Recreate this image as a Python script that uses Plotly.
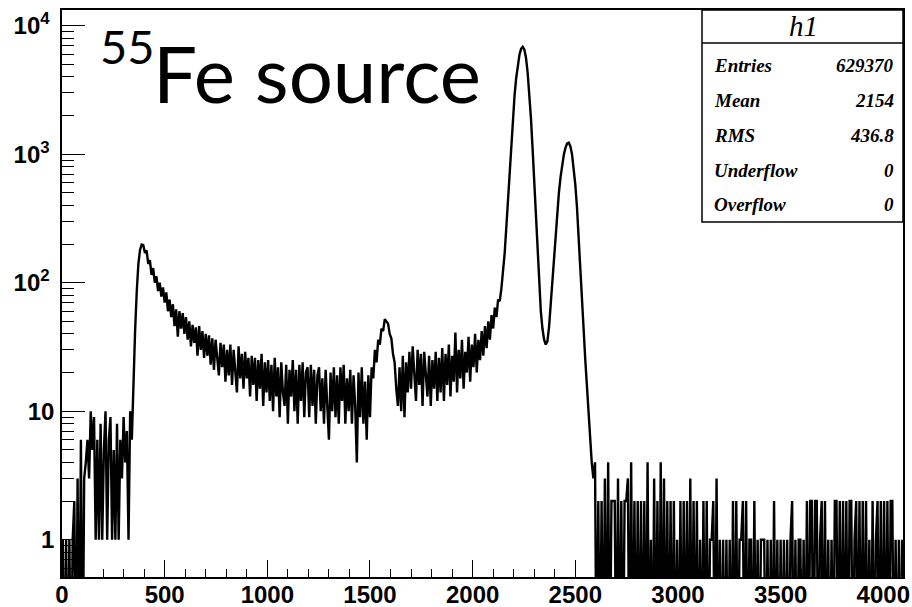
import numpy as np
import plotly.graph_objects as go

# ---------------- data (counts per channel, sampled every 8 channels) ----------------
bin_width = 8

# ch 0 .. 336
low_counts = [1, 0, 1, 0, 1, 0, 1, 2, 0, 3, 0, 6, 0, 3,
              4, 6, 3, 10, 5, 9, 1, 6, 1, 8, 1, 5, 10, 1, 6, 9, 1, 5, 1, 8, 1, 6, 3, 9, 4, 7, 1, 10, 6]
# ch 344 .. 384
rise_counts = [18, 42, 85, 140, 180, 198]
# ch 392 .. 1256
decay_counts = [196, 170, 178, 140, 150, 115, 130, 100, 112,
                86, 100, 78, 92, 70, 84, 60, 74,
                54, 68, 46, 62, 38, 60, 44, 58, 40, 54,
                36, 50, 32, 47, 34, 45, 27, 46, 30, 42, 26, 40,
                27, 39, 23, 37, 21, 36, 26, 19, 34, 22, 33, 17, 30,
                19, 33, 16, 30, 21, 14, 32, 18, 28, 15, 29, 18, 26,
                13, 27, 16, 26, 12, 25, 15, 28, 11, 24, 14, 25,
                12, 23, 10, 26, 13, 22, 9, 24, 14, 11, 23, 8, 21,
                13, 25, 10, 21, 8, 23, 12, 24, 9, 20, 22, 9,
                23, 11, 21, 8, 19, 22, 10]
# ch 1264 .. 1504
plateau_counts = [18, 8, 21, 11, 6, 20, 10, 22, 9, 19, 8, 22, 12, 23, 8, 18,
                  10, 21, 8, 19, 11, 4, 20, 9, 22, 8, 17, 6, 19, 9, 22]
# ch 1512 .. 1680
bump_counts = [18, 30, 24, 36, 33, 44, 42, 52, 50, 48, 40, 37, 28, 24, 15, 11,
               22, 10, 27, 9, 24, 14]
# ch 1688 .. 2120
shoulder_counts = [29, 15, 32, 19, 12, 30, 16, 28, 11, 29,
                   18, 13, 27, 11, 25, 15, 29, 12, 26, 14,
                   31, 12, 28, 16, 33, 13, 27, 17, 41, 14,
                   30, 18, 36, 15, 29, 20, 38, 17, 33, 22,
                   40, 20, 36, 25, 42, 27, 46, 31, 50, 36,
                   56, 44, 64, 54, 74]
# ch 2128 .. 2584
peak_counts = [72, 90, 120, 170, 270, 450, 760, 1250, 1950, 2850,
               3900, 5000, 5950, 6600, 6850, 6500, 5600, 4300, 3000, 1900,
               1100, 600, 320, 170, 95, 60, 44, 36, 33, 35,
               45, 68, 105, 165, 250, 360, 500, 660, 830, 990,
               1120, 1210, 1230, 1150, 1000, 800, 580, 390, 240, 140,
               80, 45, 26, 16, 10, 6, 4, 3]
# ch 2592 .. 4088
tail_counts = [4, 0, 2, 0, 2, 0, 3, 0, 4, 0, 2, 2, 2, 0, 3, 0,
               2, 0, 2, 2, 3, 0, 4, 0, 2, 0, 2, 0, 2, 0, 2, 0,
               4, 0, 1, 0, 3, 0, 2, 0, 4, 0, 3, 0, 2, 0, 2, 0,
               2, 0, 1, 0, 2, 0, 2, 0, 2, 0, 3, 0, 2, 0, 2, 0,
               1, 0, 2, 0, 2, 0, 1, 1, 2, 0, 3, 0, 1, 0, 1, 0,
               1, 0, 1, 0, 2, 0, 2, 0, 1, 1, 2, 0, 2, 0, 1, 1,
               0, 2, 0, 1, 0, 1, 1, 1, 0, 1, 0, 1, 0, 2, 0, 1,
               0, 1, 0, 1, 0, 1, 0, 1, 2, 0, 1, 0, 1, 1, 0, 1,
               0, 2, 0, 2, 2, 0, 2, 2, 0, 1, 2, 0, 2, 0, 1, 0,
               1, 0, 2, 2, 0, 2, 0, 2, 0, 2, 0, 2, 2, 0, 1, 2,
               0, 2, 0, 2, 0, 2, 0, 1, 0, 2, 0, 1, 2, 0, 2, 0,
               2, 0, 2, 0, 2, 2, 0, 1, 0, 1, 0, 1]

x_major_ticks = [0, 500, 1000, 1500, 2000, 2500, 3000, 3500, 4000]
y_major_ticks = [1, 10, 100, 1000, 10000]
y_major_text = ["1", "10", "10<sup>2</sup>\u2009", "10<sup>3</sup>\u2009", "10<sup>4</sup>\u2009"]

stats_title = "h1"
stats_labels = ["Entries", "Mean", "RMS", "Underflow", "Overflow"]
stats_values = ["629370", "2154", "436.8", "0", "0"]

# ---------------- build ----------------
counts = np.array(low_counts + rise_counts + decay_counts + plateau_counts +
                  bump_counts + shoulder_counts + peak_counts + tail_counts, dtype=float)
channels = np.arange(len(counts)) * bin_width + bin_width / 2
# empty bins drawn down to the bottom of the frame (below axis range -> clipped)
y_plot = np.where(counts > 0, counts, 0.05)

W, H = 912, 607
L, R, T, B = 62, 9, 10, 30
PW, PH = W - L - R, H - T - B


def px(xp):
    return (xp - L) / PW


def py(yp):
    return (H - B - yp) / PH


fig = go.Figure()
fig.add_trace(go.Scatter(x=channels, y=y_plot, mode="lines",
                         line=dict(color="black", width=2.4),
                         hoverinfo="skip", showlegend=False))

x_minor = [v for v in range(100, 4096, 100) if v % 500 != 0]
y_minor = []
for dec in [0.1, 1, 10, 100, 1000]:
    for m in range(2, 10):
        y_minor.append(m * dec)

tickfont = dict(family="Liberation Sans", size=24, color="black", weight="bold")

fig.update_layout(
    width=W, height=H,
    margin=dict(l=L, r=R, t=T, b=B, pad=0, autoexpand=False),
    paper_bgcolor="white", plot_bgcolor="white",
    showlegend=False,
    xaxis=dict(range=[0, 4096], showgrid=False, zeroline=False, automargin=False,
               showline=True, linecolor="black", linewidth=1.5, mirror=True,
               tickmode="array", tickvals=x_major_ticks,
               ticks="inside", ticklen=17, tickwidth=1.3, tickcolor="black",
               tickfont=tickfont, ticklabelstandoff=-5,
               minor=dict(tickmode="array", tickvals=x_minor, ticks="inside",
                          ticklen=8, tickwidth=1.3, tickcolor="black", showgrid=False)),
    yaxis=dict(type="log", range=[-0.29, 4.122], showgrid=False, zeroline=False, automargin=False,
               showline=True, linecolor="black", linewidth=1.5, mirror=True,
               tickmode="array", tickvals=y_major_ticks, ticktext=y_major_text,
               ticks="inside", ticklen=23, tickwidth=1.3, tickcolor="black",
               tickfont=tickfont, ticklabelstandoff=1,
               minor=dict(tickmode="array", tickvals=y_minor, ticks="inside",
                          ticklen=12, tickwidth=1.3, tickcolor="black", showgrid=False)),
)

# stats box
fig.add_shape(type="rect", xref="paper", yref="paper",
              x0=px(702), x1=1.0, y0=py(222), y1=1.0,
              line=dict(color="black", width=1.5), fillcolor="white", layer="above")
fig.add_shape(type="line", xref="paper", yref="paper",
              x0=px(702), x1=1.0, y0=py(43), y1=py(43),
              line=dict(color="black", width=1.5), layer="above")

serif_bi = dict(family="Liberation Serif", size=19, color="black", style="italic", weight="bold")
fig.add_annotation(xref="paper", yref="paper", x=px(803), y=py(26), text=stats_title,
                   showarrow=False, xanchor="center", yanchor="middle", borderpad=0,
                   font=dict(family="Liberation Serif", size=29, color="black", style="italic"))
row_y = [65, 100, 135, 170, 204]
for lab, val, yy in zip(stats_labels, stats_values, row_y):
    fig.add_annotation(xref="paper", yref="paper", x=px(713), y=py(yy), text=lab,
                       showarrow=False, xanchor="left", yanchor="middle", borderpad=0, font=serif_bi)
    fig.add_annotation(xref="paper", yref="paper", x=px(895), y=py(yy), text=val,
                       showarrow=False, xanchor="right", yanchor="middle", borderpad=0, font=serif_bi)

# title text
fig.add_annotation(xref="paper", yref="paper", x=px(99), y=py(46), text="55",
                   showarrow=False, xanchor="left", yanchor="middle", borderpad=0,
                   font=dict(family="Lato", size=47, color="black"))
fig.add_annotation(xref="paper", yref="paper", x=px(152), y=py(73), text="Fe source",
                   showarrow=False, xanchor="left", yanchor="middle", borderpad=0,
                   font=dict(family="Lato", size=78, color="black"))

fig.write_html("out.html", config={"displayModeBar": False},
               post_script="document.body.style.margin='0';document.body.style.overflow='hidden';")
